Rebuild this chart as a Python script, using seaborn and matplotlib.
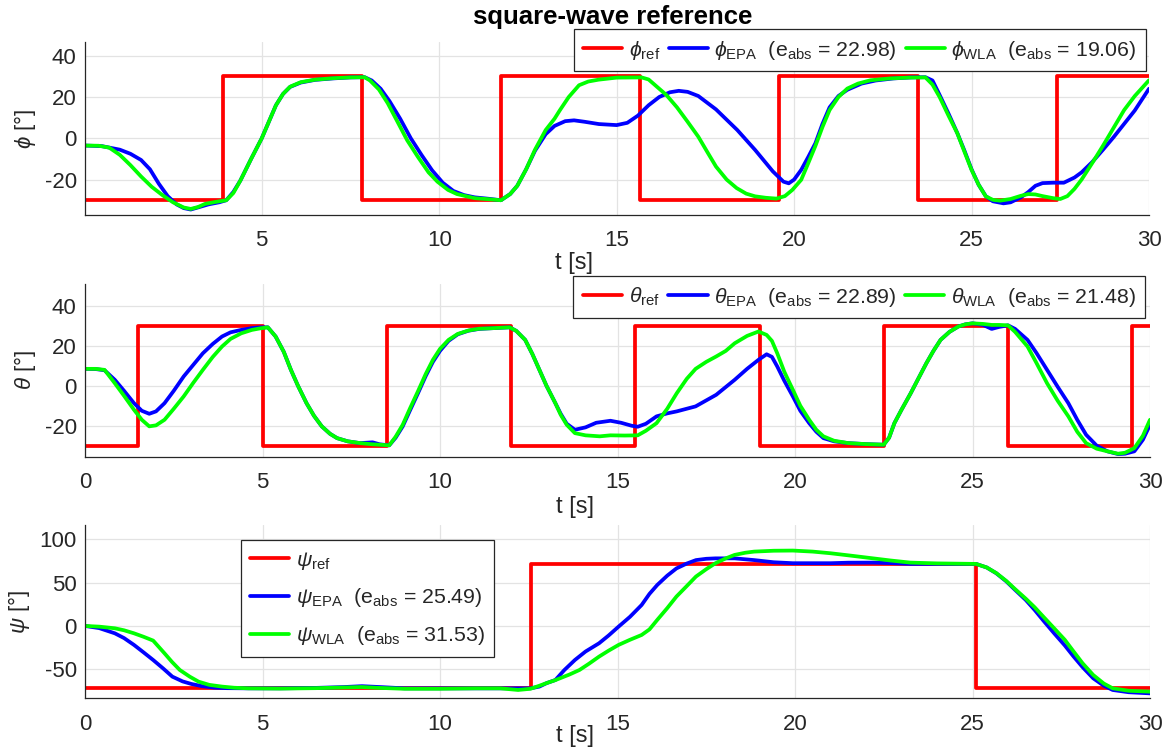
import matplotlib
matplotlib.use("Agg")
import matplotlib.pyplot as plt
import seaborn as sns

# ---------------- roll (phi) ----------------
phi_ref_t = [0.0, 3.90, 7.82, 11.74, 15.66, 19.58, 23.50, 27.42, 30.0]
phi_ref_v = [-30, 30, -30, 30, -30, 30, -30, 30, 30]

phi_epa_t = [0, 0.5, 1.0, 1.3, 1.6, 1.85, 2.1, 2.35, 2.6, 2.8, 3.0, 3.2, 3.5, 3.8, 4.0, 4.2,
             4.4, 4.7, 5.0, 5.2, 5.4, 5.6, 5.8, 6.1, 6.5, 7.0, 7.5, 7.9, 8.1, 8.35, 8.6,
             8.9, 9.2, 9.5, 9.8, 10.1, 10.4, 10.7, 11.0, 11.4, 11.74, 12.0, 12.2, 12.45,
             12.7, 13.0, 13.25, 13.55, 13.8, 14.1, 14.5, 15.0, 15.3, 15.6, 15.9, 16.2,
             16.5, 16.75, 17.0, 17.3, 17.8, 18.4, 18.9, 19.4, 19.7, 19.85, 20.0, 20.2,
             20.4, 20.6, 20.8, 21.0, 21.25, 21.5, 21.9, 22.3, 22.8, 23.3, 23.7, 23.9, 24.1,
             24.35, 24.6, 24.8, 25.0, 25.2, 25.4, 25.6, 25.9, 26.1, 26.4, 26.6, 26.8, 27.0,
             27.3, 27.6, 27.9, 28.1, 28.4, 28.7, 29.0, 29.3, 29.6, 30.0]
phi_epa_v = [-3.5, -3.8, -5.5, -7.5, -10.5, -15, -22, -28, -32, -33.8, -34.5, -33.5, -32,
             -31, -30, -26, -20.4, -10, 0, 8, 16, 21.5, 24.9, 27, 28.3, 29, 29.5, 29.6, 28,
             24, 18, 9.5, 0, -8, -15.5, -21.5, -25.5, -27.5, -28.6, -29.3, -30, -27, -23,
             -15, -6, 2, 6, 8.3, 8.7, 8.0, 6.9, 6.4, 7.5, 11, 16, 20, 22.3, 23, 22.5, 20.5,
             14, 4, -5.6, -16, -21, -21.8, -20, -15.3, -9, -2.4, 7, 15, 20.5, 23.5, 26.5,
             28, 29, 29.5, 29.6, 28, 21, 12, 2.5, -6, -15, -22.5, -28, -30.5, -31.5, -31,
             -28.5, -26, -23, -21.7, -21.5, -21.5, -19, -16.5, -11.5, -5.6, 0.5, 7, 13.5, 24]

phi_wla_t = [0, 0.4, 0.7, 1.0, 1.3, 1.6, 1.9, 2.2, 2.5, 2.8, 3.0, 3.2, 3.4, 3.7, 4.0, 4.2,
             4.4, 4.7, 5.0, 5.2, 5.4, 5.6, 5.8, 6.1, 6.5, 7.0, 7.5, 7.9, 8.05, 8.3, 8.55,
             8.85, 9.1, 9.4, 9.7, 9.95, 10.25, 10.5, 11.0, 11.4, 11.74, 12.0, 12.2, 12.45,
             12.7, 13.0, 13.25, 13.4, 13.65, 13.94, 14.2, 14.49, 15.0, 15.7, 15.9, 16.1,
             16.4, 16.7, 17.0, 17.3, 17.55, 17.8, 18.1, 18.38, 18.65, 18.9, 19.2, 19.5,
             19.74, 19.95, 20.2, 20.4, 20.6, 20.8, 21.0, 21.25, 21.5, 21.8, 22.15, 22.7,
             23.24, 23.7, 23.9, 24.1, 24.35, 24.6, 24.8, 25.0, 25.2, 25.4, 25.6, 25.8,
             26.1, 26.4, 26.6, 26.8, 27.0, 27.3, 27.5, 27.7, 27.9, 28.1, 28.4, 28.7,
             29.0, 29.3, 29.6, 30.0]
phi_wla_v = [-3.5, -3.6, -4.5, -8, -13, -18.5, -23.5, -27.5, -31, -33.5, -34.2, -33.3,
             -31.8, -30.8, -30, -26.5, -20.4, -10, 0, 8, 16, 21.5, 25, 27.2, 28.4, 29.1,
             29.5, 29.6, 28, 23.7, 17, 7.2, -1, -9, -16.5, -21, -25, -27, -29, -29.5, -30,
             -27, -23, -15, -5.5, 4, 9.5, 13.6, 20, 25.7, 27.5, 28.4, 29.4, 29.5, 28.5,
             25.5, 21, 15, 8, 0.8, -6.5, -13.7, -20, -24.1, -26.8, -28.1, -28.8, -29.2,
             -28, -25, -20.1, -12, -3.7, 5.5, 13.7, 20, 24.1, 26.5, 28.1, 29, 29.4, 29.5,
             26, 20, 11, 2.4, -6.5, -15.3, -22.5, -28.1, -29.8, -30.2, -29.4, -27.8, -27,
             -27.2, -28, -29, -29.4, -28, -24.5, -20, -12, -3.7, 5, 13.7, 20.5, 28.1]

# ---------------- pitch (theta) ----------------
theta_ref_t = [0.0, 1.5, 5.0, 8.5, 12.0, 15.5, 19.0, 22.5, 26.0, 29.5, 30.0]
theta_ref_v = [-30, 30, -30, 30, -30, 30, -30, 30, -30, 30, 30]

theta_epa_t = [0, 0.3, 0.55, 0.84, 1.1, 1.38, 1.6, 1.81, 2.0, 2.24, 2.5, 2.78, 3.05, 3.32,
               3.6, 3.86, 4.1, 4.4, 4.7, 4.94, 5.15, 5.37, 5.6, 5.8, 6.0, 6.24, 6.45, 6.67,
               6.9, 7.1, 7.4, 7.75, 8.1, 8.3, 8.57, 8.75, 8.95, 9.15, 9.38, 9.6, 9.8, 10.0,
               10.24, 10.5, 10.8, 11.1, 11.4, 11.96, 12.15, 12.4, 12.6, 12.8, 13.0, 13.25,
               13.4, 13.57, 13.8, 14.1, 14.4, 14.8, 15.1, 15.4, 15.57, 15.8, 16.1, 16.4,
               16.67, 17.2, 17.78, 18.3, 18.65, 18.97, 19.2, 19.35, 19.5, 19.7, 19.94,
               20.15, 20.4, 20.6, 20.8, 21.1, 21.5, 22.0, 22.5, 22.65, 22.8, 23.0, 23.26,
               23.5, 23.7, 23.9, 24.1, 24.35, 24.6, 24.8, 25.0, 25.3, 25.54, 25.75, 26.0,
               26.2, 26.55, 26.8, 27.1, 27.4, 27.7, 27.95, 28.2, 28.5, 28.8, 29.1, 29.3,
               29.56, 29.8, 30.0]
theta_epa_v = [8.5, 8.4, 7.8, 3, -2.5, -8.7, -12.5, -14, -12.8, -8.7, -2.5, 4.7, 10.5, 16.3,
               21, 24.7, 26.8, 28, 28.9, 29.3, 29.3, 24.7, 17, 8, 0, -8.7, -15, -20.3, -24,
               -26.2, -27.8, -28.7, -28.3, -29.3, -29.8, -26, -20.3, -12.5, -3.7, 5, 12,
               17.5, 22.5, 25.8, 27.6, 28.5, 28.8, 29.3, 27.5, 23, 16, 8, 0, -8.7, -14, -19,
               -22, -20.8, -18.5, -17.5, -18.5, -20, -20.5, -19, -15.3, -13.8, -12.8, -10.3,
               -4.5, 3, 8.5, 13, 15.8, 14.5, 9.7, 2.5, -5.3, -12.5, -18.7, -23, -26.2, -27.8,
               -28.7, -29.2, -29.5, -26, -18.7, -12, -3.7, 4.5, 11.3, 17.5, 23, 27, 29.7,
               30.8, 31.3, 30.5, 28.5, 29.5, 30.3, 28.5, 23, 16.5, 8, -0.5, -8.7, -17, -24.5,
               -30, -32.8, -34.2, -34, -32.8, -27, -19.5]

theta_wla_t = [0, 0.3, 0.55, 0.84, 1.1, 1.38, 1.6, 1.81, 2.0, 2.24, 2.5, 2.78, 3.05, 3.32,
               3.6, 3.86, 4.1, 4.4, 4.7, 4.94, 5.15, 5.37, 5.6, 5.8, 6.0, 6.24, 6.45, 6.67,
               6.9, 7.1, 7.4, 7.75, 8.1, 8.3, 8.57, 8.75, 8.95, 9.15, 9.38, 9.6, 9.8, 10.0,
               10.24, 10.5, 10.8, 11.1, 11.4, 11.96, 12.15, 12.4, 12.6, 12.8, 13.0, 13.25,
               13.4, 13.57, 13.8, 14.1, 14.5, 14.8, 15.2, 15.57, 15.8, 16.1, 16.4, 16.67,
               16.95, 17.2, 17.5, 17.78, 18.05, 18.3, 18.65, 18.97, 19.2, 19.35, 19.5, 19.7,
               19.94, 20.15, 20.4, 20.6, 20.8, 21.1, 21.5, 22.0, 22.5, 22.65, 22.8, 23.0,
               23.26, 23.5, 23.7, 23.9, 24.1, 24.35, 24.6, 24.8, 25.0, 25.3, 25.54, 25.75,
               26.0, 26.2, 26.55, 26.8, 27.1, 27.4, 27.7, 27.95, 28.2, 28.5, 28.8, 29.1,
               29.3, 29.56, 29.8, 30.0]
theta_wla_v = [8.5, 8.5, 8.0, 1.3, -5, -12, -17, -20.3, -19.8, -17, -11.5, -5.3, 1.5, 8,
               14.5, 19.7, 23.5, 26.3, 28, 28.8, 29.3, 24.7, 17, 8, 0, -8.7, -15, -20.3, -24,
               -26.2, -27.8, -28.7, -29.3, -29.5, -29.8, -25.5, -19.5, -11.5, -2.7, 6, 13,
               18.5, 23, 26, 27.7, 28.6, 28.8, 29.3, 27.5, 23, 16, 8, 0, -8.7, -14.5, -19.5,
               -23.7, -24.8, -25.3, -24.8, -24.9, -24.8, -22.5, -18.7, -11.5, -3.7, 3.5, 8.5,
               12, 14.7, 17.5, 21.3, 25, 27.2, 25.5, 22.5, 16.3, 7, -2, -10, -17, -22, -25.3,
               -27.5, -28.7, -29.2, -29.5, -26, -18.7, -12, -3.7, 4.5, 11.3, 17.5, 23, 27,
               29.7, 30.8, 31.3, 31, 30.5, 30.5, 30.3, 27, 19.7, 11.5, 1.3, -7.5, -15.3, -23,
               -28.7, -31.5, -32.8, -34, -33.5, -31.2, -25, -17]

# ---------------- yaw (psi) ----------------
psi_ref_t = [0.0, 12.55, 25.1, 30.0]
psi_ref_v = [-72, 72, -72, -72]

psi_epa_t = [0, 0.4, 0.84, 1.1, 1.38, 1.65, 1.92, 2.2, 2.46, 2.75, 3.0, 3.3, 3.65, 4.0, 4.6,
             5.5, 6.5, 7.3, 7.8, 8.3, 9.0, 10.0, 11.0, 12.0, 12.55, 12.8, 13.0, 13.25,
             13.5, 13.8, 14.1, 14.48, 14.75, 15.03, 15.35, 15.68, 15.9, 16.12, 16.4, 16.66,
             16.95, 17.21, 17.5, 17.76, 18.3, 18.85, 19.4, 19.94, 20.5, 21.0, 21.5, 22.2,
             22.7, 23.25, 24.0, 25.1, 25.4, 25.67, 25.95, 26.2, 26.5, 26.75, 27.0, 27.3,
             27.6, 27.85, 28.1, 28.4, 28.7, 28.95, 29.4, 30.0]
psi_epa_v = [0, -2.5, -8.5, -14, -21.9, -30.5, -39.3, -49, -58.5, -64, -67, -69.5, -71.2,
             -71.8, -72, -72, -71.5, -70.5, -69.5, -70.5, -72, -72, -72, -72, -72, -70, -66,
             -62.4, -51, -39.3, -29.5, -20, -11, -0.8, 10.5, 24.2, 37, 47.3, 58, 66.4, 72,
             76, 77.5, 78, 78, 76, 73.5, 72.4, 72.4, 72.4, 73, 73.1, 72.5, 71.6, 71.6, 71.6,
             67.5, 60.8, 51.5, 41.6, 30, 18.5, 6, -8.5, -22.5, -35.4, -47.5, -60.4, -69,
             -73.9, -76.5, -77.8]

psi_wla_t = [0, 0.4, 0.84, 1.1, 1.38, 1.65, 1.92, 2.24, 2.45, 2.67, 2.95, 3.2, 3.5, 3.86,
             4.2, 4.6, 5.5, 6.5, 7.3, 7.8, 8.3, 9.0, 10.0, 11.0, 11.7, 12.2, 12.55, 12.8,
             13.0, 13.25, 13.38, 13.65, 13.93, 14.2, 14.48, 14.75, 15.03, 15.35, 15.68, 15.9,
             16.12, 16.4, 16.66, 16.95, 17.21, 17.5, 17.76, 18.05, 18.3, 18.6, 18.85, 19.4,
             19.94, 20.5, 21.0, 21.6, 22.2, 22.7, 23.25, 24.0, 25.1, 25.4, 25.67, 25.95,
             26.2, 26.5, 26.75, 27.0, 27.3, 27.6, 27.85, 28.1, 28.4, 28.7, 28.95, 29.4, 30.0]
psi_wla_v = [0, -0.8, -2.7, -5, -8.5, -12.5, -16.9, -31.6, -41.5, -50.8, -58.5, -64.3, -68,
             -70, -71.3, -72, -72.3, -71.8, -71, -70.5, -71.5, -72.5, -72.5, -72, -72, -73.9,
             -72.5, -69, -66, -62.5, -60.4, -56, -50.8, -43.5, -35.4, -28.5, -21.9, -16,
             -10.4, -4, 7, 20.5, 33.9, 46, 57, 65.5, 72.4, 78, 82, 84.5, 85.8, 86.8, 87,
             85.8, 83.9, 81, 78, 75.5, 73.1, 72.2, 71.6, 67.5, 61, 52, 42.5, 31.5, 21.6,
             10.5, -2.7, -16, -29.6, -43, -56.6, -66.5, -72, -74.8, -75.8]

# legend texts
phi_labels = [r"$\phi_{\rm ref}$",
              r"$\phi_{\rm EPA}$  (e$_{\rm abs}$ = 22.98)",
              r"$\phi_{\rm WLA}$  (e$_{\rm abs}$ = 19.06)"]
theta_labels = [r"$\theta_{\rm ref}$",
                r"$\theta_{\rm EPA}$  (e$_{\rm abs}$ = 22.89)",
                r"$\theta_{\rm WLA}$  (e$_{\rm abs}$ = 21.48)"]
psi_labels = [r"$\psi_{\rm ref}$",
              r"$\psi_{\rm EPA}$  (e$_{\rm abs}$ = 25.49)",
              r"$\psi_{\rm WLA}$  (e$_{\rm abs}$ = 31.53)"]

x_ticks = [5, 10, 15, 20, 25, 30]
x_ticks_full = [0, 5, 10, 15, 20, 25, 30]
small_yticks = [-20, 0, 20, 40]
psi_yticks = [-50, 0, 50, 100]

RED, BLUE, GREEN = "#ff0000", "#0000ff", "#00ff00"
AX_COLOR = "#262626"
FS = 16
LEG_FS = 15.3

sns.set_theme(style="white")
plt.rcParams.update({
    "font.family": ["Liberation Sans", "DejaVu Sans"],
    "mathtext.fontset": "custom",
    "mathtext.rm": "Liberation Sans",
    "mathtext.it": "Liberation Sans:italic",
    "mathtext.bf": "Liberation Sans:bold",
    "axes.unicode_minus": False,
    "lines.solid_joinstyle": "round",
})

W, H = 1170, 751
fig = plt.figure(figsize=(W / 100, H / 100), dpi=100)


def frac_axes(left, top, right, bottom):
    return fig.add_axes([left / W, 1 - bottom / H, (right - left) / W, (bottom - top) / H])


def panel(ax, ref, epa, wla, labels, xlim, xticks, ylim, yticks, ylabel, xlab_y):
    lw = 2.7
    sns.lineplot(x=ref[0], y=ref[1], ax=ax, color=RED, lw=lw, drawstyle="steps-post",
                 estimator=None, sort=False, label=labels[0])
    sns.lineplot(x=epa[0], y=epa[1], ax=ax, color=BLUE, lw=lw, estimator=None,
                 sort=False, label=labels[1])
    sns.lineplot(x=wla[0], y=wla[1], ax=ax, color=GREEN, lw=lw, estimator=None,
                 sort=False, label=labels[2])
    ax.set_xlim(*xlim)
    ax.set_ylim(*ylim)
    ax.set_xticks(xticks)
    ax.set_yticks(yticks)
    ax.grid(True, color="#e3e3e3", lw=0.9)
    ax.set_axisbelow(True)
    for side in ("top", "right"):
        ax.spines[side].set_visible(False)
    for side in ("left", "bottom"):
        ax.spines[side].set_color(AX_COLOR)
        ax.spines[side].set_linewidth(0.9)
    ax.tick_params(direction="in", length=7, width=0.8, colors=AX_COLOR,
                   labelsize=FS, labelcolor=AX_COLOR)
    ax.tick_params(axis="x", pad=11)
    ax.tick_params(axis="y", pad=6)
    ax.set_ylabel(ylabel, fontsize=FS, color=AX_COLOR, labelpad=5)
    ax.set_xlabel("t [s]", fontsize=FS + 1, color=AX_COLOR)
    ax.xaxis.set_label_coords(0.46, xlab_y)


ax1 = frac_axes(85, 42.3, 1149, 214.7)
ax2 = frac_axes(85, 284, 1150, 456.7)
ax3 = frac_axes(85, 525, 1150, 698.3)

panel(ax1, (phi_ref_t, phi_ref_v), (phi_epa_t, phi_epa_v), (phi_wla_t, phi_wla_v),
      phi_labels, (0.02, 30), x_ticks, (-37, 46.5), small_yticks, r"$\phi$ [°]", -0.215)
panel(ax2, (theta_ref_t, theta_ref_v), (theta_epa_t, theta_epa_v), (theta_wla_t, theta_wla_v),
      theta_labels, (0, 30), x_ticks_full, (-35.5, 51), small_yticks, r"$\theta$ [°]", -0.225)
panel(ax3, (psi_ref_t, psi_ref_v), (psi_epa_t, psi_epa_v), (psi_wla_t, psi_wla_v),
      psi_labels, (0, 30), x_ticks_full, (-83.5, 116.5), psi_yticks, r"$\psi$ [°]", -0.155)

leg_kw = dict(frameon=True, fancybox=False, framealpha=1, edgecolor=AX_COLOR,
              fontsize=LEG_FS, handlelength=1.85, handletextpad=0.3, borderpad=0.45,
              borderaxespad=0, bbox_transform=fig.transFigure)


def place_legend(ax, loc, anchor, ncol, spacing):
    handles, labels = ax.get_legend_handles_labels()
    leg = ax.legend(handles, labels, loc=loc, bbox_to_anchor=anchor, ncol=ncol,
                    columnspacing=0.4, labelspacing=spacing, **leg_kw)
    leg.get_frame().set_linewidth(0.9)
    for ln in leg.get_lines():
        ln.set_linewidth(2.7)


place_legend(ax1, "upper right", (1146 / W, 1 - 29.3 / H), 3, 0.3)
place_legend(ax2, "upper right", (1145 / W, 1 - 276 / H), 3, 0.3)
place_legend(ax3, "upper left", (240.6 / W, 1 - 540 / H), 1, 0.7)

fig.text(613 / W, 1 - 17 / H, "square-wave reference", ha="center", va="center",
         fontsize=18.5, fontweight="bold", color="black")

fig.savefig("out.png", dpi=100)
